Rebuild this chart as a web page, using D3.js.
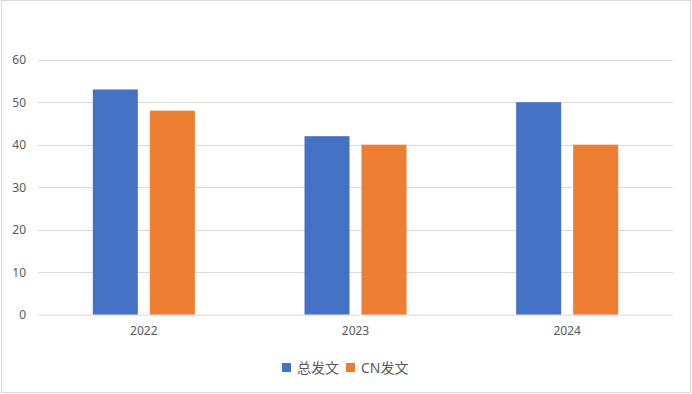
<!DOCTYPE html>
<html lang="zh">
  <head>
    <meta charset="UTF-8" />
    <title>发文</title>
    <style>
      body { margin: 0; background: #fff; }
      text { font-family: "Noto Sans", "Noto Sans CJK SC", sans-serif; fill: #595959; }
    </style>
  </head>
  <body>
    <script src="https://d3js.org/d3.v7.min.js"></script>
    <script>
      const years = ['2022', '2023', '2024']
      const seriesNames = ['总发文', 'CN发文']
      const totalPapers = [53, 42, 50]
      const cnPapers = [48, 40, 40]
      const yTicks = [0, 10, 20, 30, 40, 50, 60]
      const colors = ['#4472C4', '#ED7D31']

      const width = 692
      const height = 394
      const plot = { left: 38, right: 673, top: 59.7, bottom: 314.7 }

      const svg = d3.select('body').append('svg')
        .attr('width', width).attr('height', height)

      // chart border
      svg.append('rect')
        .attr('x', 1.5).attr('y', 0.5)
        .attr('width', width - 3).attr('height', height - 2)
        .attr('fill', '#fff').attr('stroke', '#d9d9d9')

      const x = d3.scaleBand().domain(years).range([plot.left, plot.right])
      const y = d3.scaleLinear().domain([0, 60]).range([plot.bottom, plot.top])

      // gridlines
      svg.append('g')
        .selectAll('line')
        .data(yTicks.slice(1))
        .enter().append('line')
        .attr('x1', plot.left).attr('x2', plot.right)
        .attr('y1', d => Math.round(y(d)) + 0.5).attr('y2', d => Math.round(y(d)) + 0.5)
        .attr('stroke', '#d9d9d9')

      // y axis labels
      const yAxis = g => g
        .attr('transform', `translate(${plot.left},0)`)
        .call(d3.axisLeft(y).tickValues(yTicks).tickSize(0).tickPadding(12))
        .call(g => g.select('.domain').remove())
        .call(g => g.selectAll('text').attr('font-size', 12).attr('fill', '#595959')
          .attr('font-family', '"Noto Sans", sans-serif'))

      const xAxis = g => g
        .attr('transform', `translate(0,${plot.bottom})`)
        .call(d3.axisBottom(x).tickSize(0).tickPadding(12))
        .call(g => g.select('.domain').attr('stroke', '#d9d9d9').attr('d', `M${plot.left},0.5H${plot.right}`))
        .call(g => g.selectAll('text').attr('font-size', 12).attr('fill', '#595959')
          .attr('font-family', '"Noto Sans", sans-serif'))

      // bars
      const barW = 45
      const barGap = 12
      const table = years.map((yr, i) => ({ year: yr, values: [totalPapers[i], cnPapers[i]] }))

      const groups = svg.append('g').selectAll('g')
        .data(table).enter().append('g')
        .attr('transform', d => `translate(${x(d.year) + x.bandwidth() / 2},0)`)

      groups.selectAll('rect')
        .data(d => d.values.map((v, k) => ({ v, k })))
        .enter().append('rect')
        .attr('x', d => d.k === 0 ? -barW - barGap / 2 : barGap / 2)
        .attr('y', d => y(d.v))
        .attr('width', barW)
        .attr('height', d => y(0) - y(d.v))
        .attr('fill', d => colors[d.k])

      svg.append('g').call(xAxis)
      svg.append('g').call(yAxis)

      // legend
      const legend = svg.append('g').attr('transform', 'translate(282,368)')
      const legendX = [0, 64]
      seriesNames.forEach((name, i) => {
        const item = legend.append('g').attr('transform', `translate(${legendX[i]},0)`)
        item.append('rect').attr('x', 0).attr('y', -5).attr('width', 9).attr('height', 9).attr('fill', colors[i])
        item.append('text').attr('x', 15).attr('y', 0).attr('dy', '0.35em')
          .attr('font-size', 14).attr('font-family', '"Noto Sans CJK SC", sans-serif')
          .attr('fill', '#595959').text(name)
      })
    </script>
  </body>
</html>
